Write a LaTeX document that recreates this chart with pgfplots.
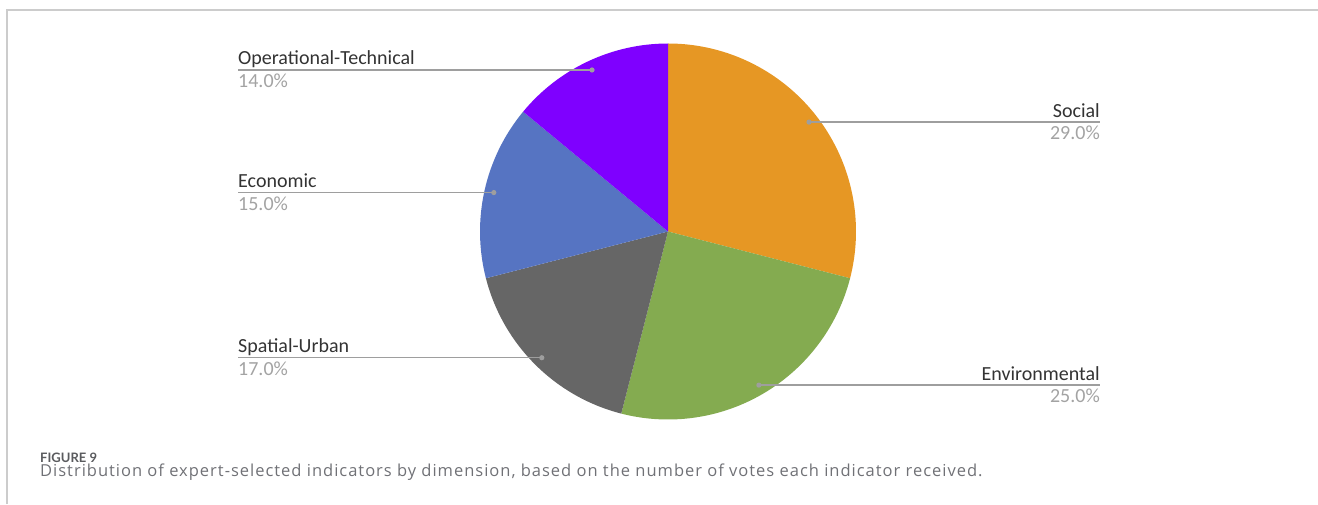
\documentclass[border=0pt]{standalone}
\usepackage{pgfplots}
\pgfplotsset{compat=1.18}
\usepackage{pgfplotstable}
\usepackage{fontspec}
\setmainfont{Carlito}
\newfontfamily\capfont{Lato}
\newfontfamily\captext[LetterSpace=6]{Open Sans}
\definecolor{pie0}{HTML}{E69724}
\definecolor{pie1}{HTML}{84AB50}
\definecolor{pie2}{HTML}{666666}
\definecolor{pie3}{HTML}{5674C2}
\definecolor{pie4}{HTML}{7F00FF}
\definecolor{leader}{HTML}{9E9E9E}
\definecolor{lbl}{HTML}{333333}
\definecolor{pct}{HTML}{A3A3A3}
\definecolor{capgray}{HTML}{5A5B5E}
\definecolor{captxt}{HTML}{707176}
\definecolor{frame}{HTML}{CCCCCC}

\pgfplotstableread[col sep=comma]{
label,value,side
Social,29,1
Environmental,25,1
Spatial-Urban,17,0
Economic,15,0
Operational-Technical,14,0
}\piedata

\begin{document}
\begin{tikzpicture}
\path[use as bounding box] (0,0) rectangle (1318pt,504pt);
\def\cx{668}\def\cy{272.5}\def\R{188}\def\Rd{178.5}
\xdef\cum{90}
\foreach \i in {0,...,4}{%
  \pgfplotstablegetelem{\i}{value}\of\piedata
  \xdef\pv{\pgfplotsretval}%
  \pgfmathsetmacro\ea{\cum-3.6*\pv}%
  \pgfmathsetmacro\ma{(\cum+\ea)/2}%
  \pgfmathsetmacro\dx{\cx+\Rd*cos(\ma)}%
  \pgfmathsetmacro\dy{\cy+\Rd*sin(\ma)}%
  \expandafter\xdef\csname sa\i\endcsname{\cum}%
  \expandafter\xdef\csname ea\i\endcsname{\ea}%
  \expandafter\xdef\csname dx\i\endcsname{\dx}%
  \expandafter\xdef\csname dy\i\endcsname{\dy}%
  \expandafter\xdef\csname pv\i\endcsname{\pv}%
  \pgfplotstablegetelem{\i}{label}\of\piedata
  \expandafter\xdef\csname lb\i\endcsname{\pgfplotsretval}%
  \pgfplotstablegetelem{\i}{side}\of\piedata
  \expandafter\xdef\csname sd\i\endcsname{\pgfplotsretval}%
  \xdef\cum{\ea}%
}
\begin{axis}[at={(0,0)}, anchor=south west, scale only axis,
  width=1318pt, height=504pt, xmin=0, xmax=1318, ymin=0, ymax=504,
  hide axis, clip=false]
\pgfplotsinvokeforeach{0,...,4}{%
  \fill[pie#1] (axis cs:\cx,\cy) -- ++(\csname sa#1\endcsname:\R pt)
     arc[start angle=\csname sa#1\endcsname, end angle=\csname ea#1\endcsname, radius=\R pt] -- cycle;
}
\pgfplotsinvokeforeach{0,1}{%
  \draw[leader, line width=1.4pt] (axis cs:\csname dx#1\endcsname,\csname dy#1\endcsname) -- (axis cs:1100,\csname dy#1\endcsname);
  \fill[leader] (axis cs:\csname dx#1\endcsname,\csname dy#1\endcsname) circle[radius=2.6pt];
  \node[anchor=base east, inner sep=0pt, text=lbl, font=\fontsize{20}{24}\selectfont] at (axis cs:1100,\csname dy#1\endcsname+5) {\csname lb#1\endcsname};
  \node[anchor=base east, inner sep=0pt, text=pct, font=\fontsize{20}{24}\selectfont] at (axis cs:1100,\csname dy#1\endcsname-17.5) {\csname pv#1\endcsname.0\%};
}
\pgfplotsinvokeforeach{2,3,4}{%
  \draw[leader, line width=1.4pt] (axis cs:238,\csname dy#1\endcsname) -- (axis cs:\csname dx#1\endcsname,\csname dy#1\endcsname);
  \fill[leader] (axis cs:\csname dx#1\endcsname,\csname dy#1\endcsname) circle[radius=2.6pt];
  \node[anchor=base west, inner sep=0pt, text=lbl, font=\fontsize{20}{24}\selectfont] at (axis cs:238,\csname dy#1\endcsname+5) {\csname lb#1\endcsname};
  \node[anchor=base west, inner sep=0pt, text=pct, font=\fontsize{20}{24}\selectfont] at (axis cs:238,\csname dy#1\endcsname-17.5) {\csname pv#1\endcsname.0\%};
}
\draw[frame, line width=1.5pt] (axis cs:7,0) -- (axis cs:7,494) -- (axis cs:1318,494);
\node[anchor=base west, inner sep=0pt, text=capgray, font=\capfont\bfseries\fontsize{13}{15}\selectfont] at (axis cs:40,42) {FIGURE 9};
\node[anchor=base west, inner sep=0pt, text=captxt, font=\captext\fontsize{16.5}{19}\selectfont] at (axis cs:40,27.5) {Distribution of expert-selected indicators by dimension, based on the number of votes each indicator received.};
\end{axis}
\end{tikzpicture}
\end{document}
